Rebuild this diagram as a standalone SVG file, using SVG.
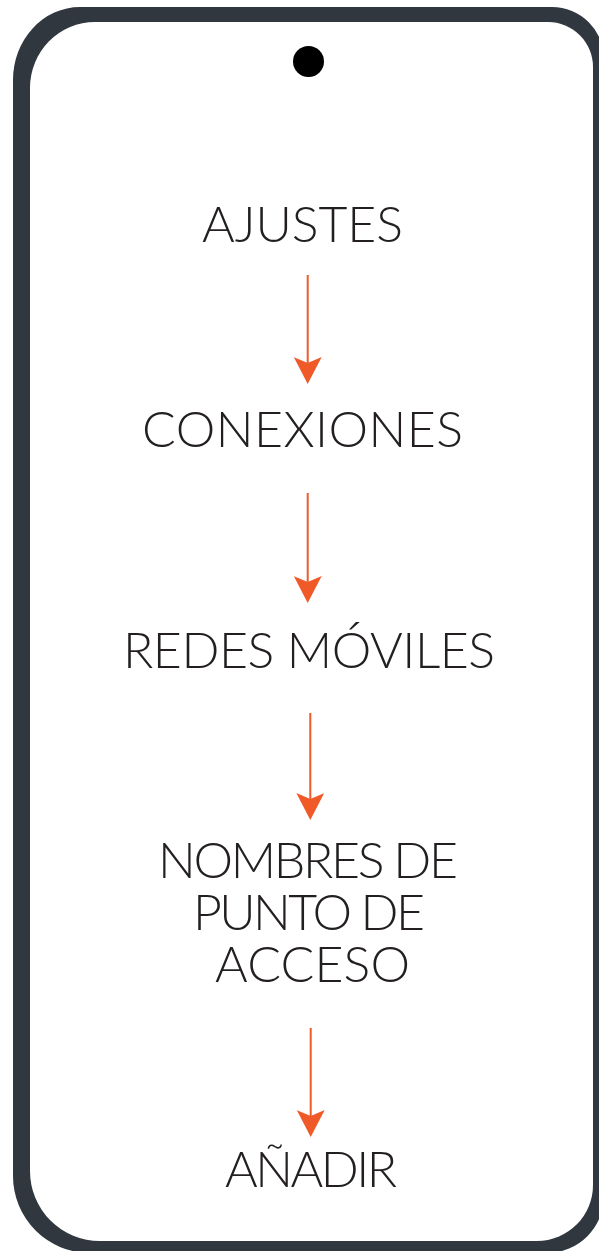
<svg xmlns="http://www.w3.org/2000/svg" width="599" height="1251" viewBox="0 0 599 1251">
<style>
.lbl{font-family:"Lato","Liberation Sans",sans-serif;font-weight:300;font-size:50px;fill:#231f20;text-anchor:middle}
.arr{stroke:#f05a28;stroke-width:2;fill:none;marker-end:url(#head)}
</style>
<defs>
<marker id="head" viewBox="0 0 27 28" markerWidth="27" markerHeight="28" refX="21" refY="14" orient="auto" markerUnits="userSpaceOnUse">
<path d="M0 0 L6 14 L0 28 L27 14 Z" fill="#f05a28"/>
</marker>
</defs>
<g id="phone">
<path d="M80 7 H552 A52 52 0 0 1 604 59 V1195 A57 57 0 0 1 547 1253 H90 A77 77 0 0 1 13 1176 V80 A67 73 0 0 1 80 7 Z" fill="#30373f"/>
<path d="M95 22 H548 A45 45 0 0 1 593 67 V1185 A56 56 0 0 1 537 1241 H100 A70 70 0 0 1 30 1171 V88 A65 66 0 0 1 95 22 Z" fill="#ffffff"/>
<circle cx="308.5" cy="61.5" r="15.5" fill="#000000"/>
</g>
<g id="n1"><text class="lbl" x="302.5" y="242" textLength="201" lengthAdjust="spacing">AJUSTES</text></g>
<g id="n2"><text class="lbl" x="302.5" y="447" textLength="321" lengthAdjust="spacing">CONEXIONES</text></g>
<g id="n3"><text class="lbl" x="309" y="668" textLength="372" lengthAdjust="spacing">REDES MÓVILES</text></g>
<g id="n4">
<text class="lbl"><tspan x="308" y="878" textLength="300" lengthAdjust="spacing">NOMBRES DE</tspan><tspan x="309" y="930" textLength="232" lengthAdjust="spacing">PUNTO DE</tspan><tspan x="312.5" y="982" textLength="195" lengthAdjust="spacing">ACCESO</tspan></text>
</g>
<g id="n5"><text class="lbl" x="311" y="1187" textLength="172" lengthAdjust="spacing">AÑADIR</text></g>
<g id="connectors">
<line class="arr" x1="307.7" y1="275" x2="307.7" y2="378"/>
<line class="arr" x1="307.7" y1="493" x2="307.7" y2="597"/>
<line class="arr" x1="310.3" y1="713" x2="310.3" y2="814"/>
<line class="arr" x1="310.7" y1="1028" x2="310.7" y2="1131"/>
</g>
</svg>
